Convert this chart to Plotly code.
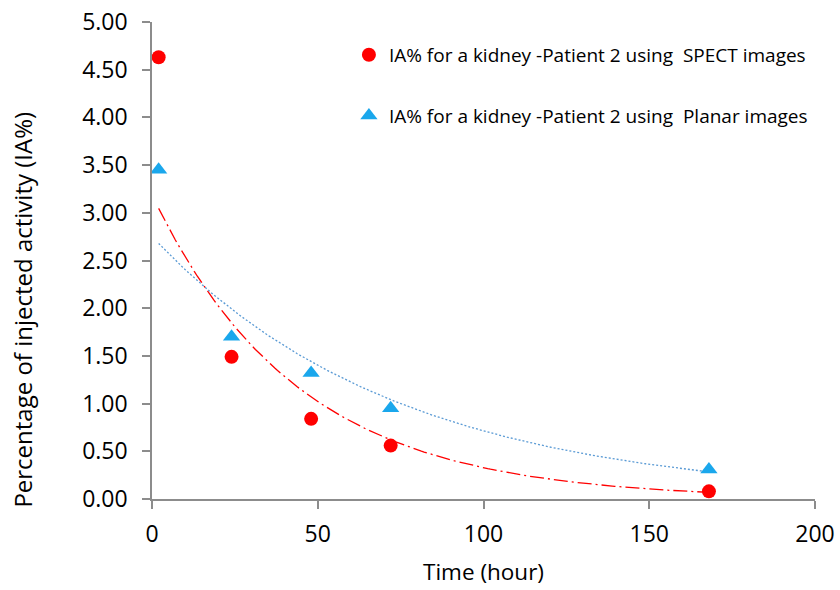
import numpy as np
import plotly.graph_objects as go

# Sampling times (hour) and injected-activity percentages for one kidney
time_h = [2, 24, 48, 72, 168]
ia_spect = [4.63, 1.49, 0.84, 0.56, 0.08]
ia_planar = [3.45, 1.70, 1.32, 0.95, 0.31]

y_ticks = [0, 0.5, 1.0, 1.5, 2.0, 2.5, 3.0, 3.5, 4.0, 4.5, 5.0]
x_ticks = [0, 50, 100, 150, 200]

FONT = "Open Sans"
AXIS_GREY = "#8c8c8c"


def exp_trend(x, y, n=200):
    """Exponential least-squares trend (fit of ln y on x), like a spreadsheet trendline."""
    x = np.asarray(x, float)
    b, a = np.polyfit(x, np.log(np.asarray(y, float)), 1)
    xs = np.linspace(x.min(), x.max(), n)
    return xs, np.exp(a + b * xs)


fig = go.Figure()

xs, ys = exp_trend(time_h, ia_spect)
fig.add_trace(go.Scatter(x=xs, y=ys, mode="lines", showlegend=False, hoverinfo="skip",
                         line=dict(color="#ff0000", width=1.3, dash="14px,4px,2px,4px")))
xs, ys = exp_trend(time_h, ia_planar)
fig.add_trace(go.Scatter(x=xs, y=ys, mode="lines", showlegend=False, hoverinfo="skip",
                         line=dict(color="#5b9bd5", width=1.3, dash="2px,2px")))

fig.add_trace(go.Scatter(
    x=time_h, y=ia_spect, mode="markers", legendgroup="spect",
    name="IA% for a kidney -Patient 2 using  SPECT images",
    marker=dict(symbol="circle", size=14, color="#ff0000"), cliponaxis=False))
fig.add_trace(go.Scatter(
    x=time_h, y=ia_planar, mode="markers", legendgroup="planar",
    name="IA% for a kidney -Patient 2 using  Planar images",
    marker=dict(symbol="triangle-up", size=15, color="#1aa7ec"), cliponaxis=False))

# Vertical axis title, placed a little below the axis midpoint
fig.add_annotation(text="Percentage of injected activity (IA%)", textangle=-90,
                   xref="paper", yref="paper", x=-0.1953, y=0.396,
                   xanchor="center", yanchor="middle", showarrow=False,
                   font=dict(family=FONT, size=24, color="#000000"))

fig.update_layout(
    width=840, height=590,
    margin=dict(l=152, r=25, t=22, b=91, autoexpand=False),
    paper_bgcolor="white", plot_bgcolor="white",
    font=dict(family=FONT, size=20, color="#000000"),
    legend=dict(x=0.297, y=0.971, xanchor="left", yanchor="top",
                bgcolor="rgba(0,0,0,0)", font=dict(family=FONT, size=19),
                tracegroupgap=33, itemwidth=30),
    xaxis=dict(range=[0, 200], tickvals=x_ticks, ticktext=[str(v) for v in x_ticks],
               showgrid=False, zeroline=False, showline=True, linecolor=AXIS_GREY,
               linewidth=1.5, ticks="outside", ticklen=8, tickcolor=AXIS_GREY,
               tickwidth=1.5, tickfont=dict(size=23), ticklabelstandoff=6,
               automargin=False,
               title=dict(text="Time (hour)", font=dict(size=22.5), standoff=16)),
    yaxis=dict(range=[0, 5], tickvals=y_ticks, ticktext=[f"{v:.2f}" for v in y_ticks],
               showgrid=False, zeroline=False, showline=True, linecolor=AXIS_GREY,
               linewidth=1.5, ticks="outside", ticklen=8, tickcolor=AXIS_GREY,
               tickwidth=1.5, tickfont=dict(size=23), ticklabelstandoff=10,
               automargin=False),
)

fig.write_html("out.html")
